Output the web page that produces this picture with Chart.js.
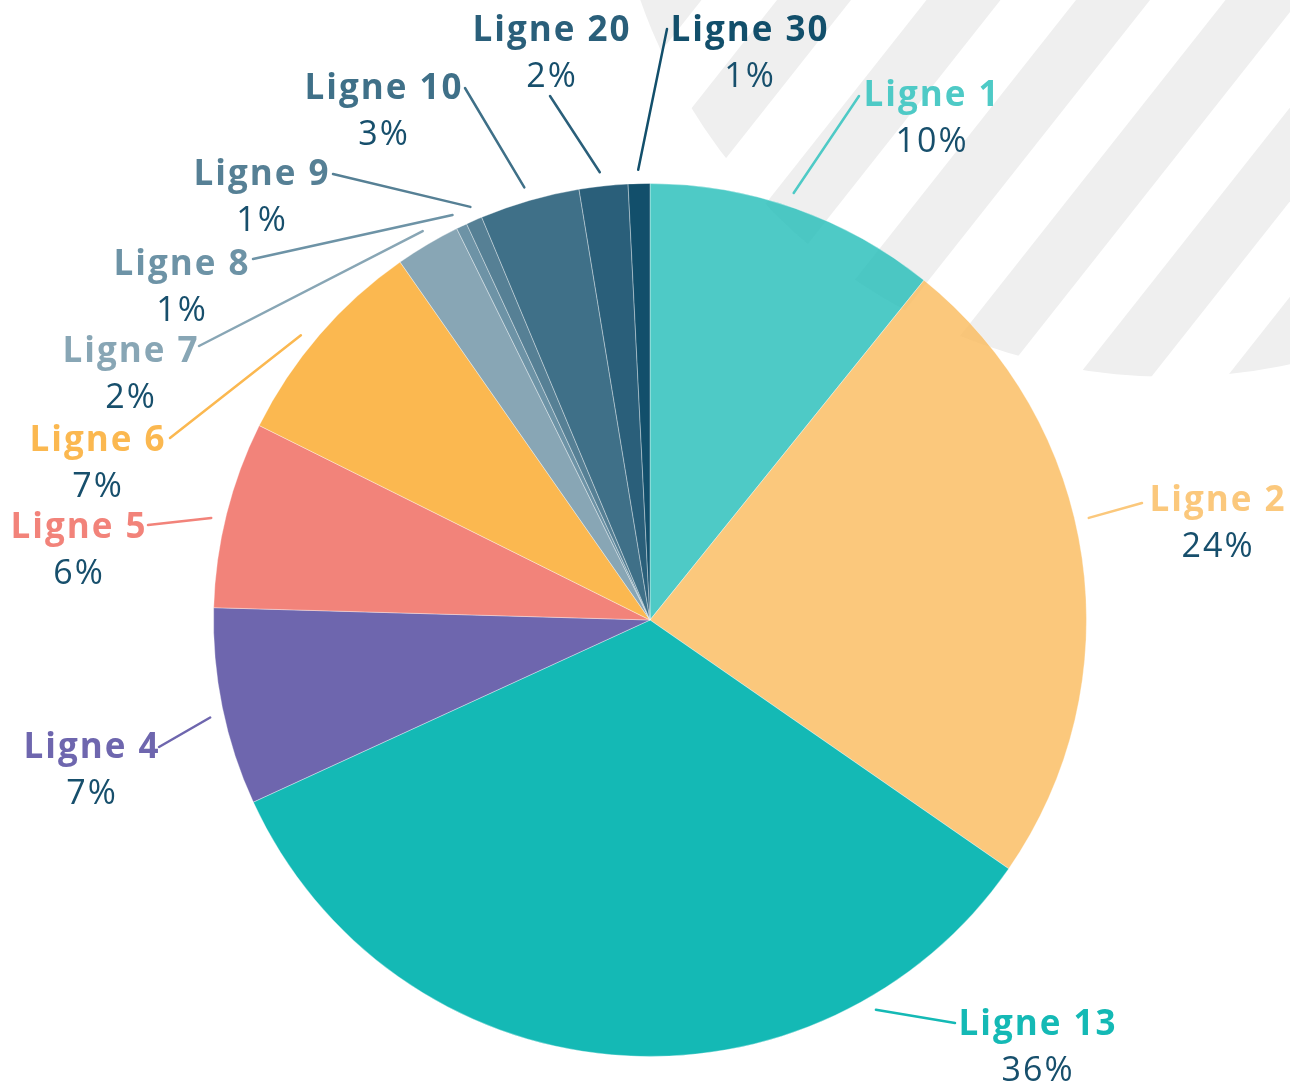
<!DOCTYPE html>
<html>
<head>
<meta charset="utf-8">
<script src="https://cdn.jsdelivr.net/npm/chart.js@4/dist/chart.umd.min.js"></script>
<style>
  html, body { margin: 0; padding: 0; background: #fff; }
  #wrap { width: 1290px; height: 1086px; }
</style>
</head>
<body>
<div id="wrap"><canvas id="pie" width="1290" height="1086"></canvas></div>
<script>
const categories = ['Ligne 1', 'Ligne 2', 'Ligne 13', 'Ligne 4', 'Ligne 5', 'Ligne 6',
  'Ligne 7', 'Ligne 8', 'Ligne 9', 'Ligne 10', 'Ligne 20', 'Ligne 30'];
// slice sizes as measured on the picture (%)
const shares = [10.8, 23.85, 33.5, 7.3, 6.9, 7.95, 2.4, 0.4, 0.6, 3.7, 1.8, 0.8];
// percentages as printed next to each slice
const shareLabels = ['10%', '24%', '36%', '7%', '6%', '7%', '2%', '1%', '1%', '3%', '2%', '1%'];

const sliceColors = ['#4ecac6', '#fbc87c', '#14b9b5', '#6e66ae', '#f2837a', '#fbb850',
  '#88a6b5', '#6d93a6', '#568095', '#3f7088', '#2a5f7a', '#124f6b'];
// the two top-right slices are slightly see-through over the stripes
const fillColors = sliceColors.slice();
fillColors[0] = 'rgba(34,189,184,0.8)';
fillColors[1] = 'rgba(250,186,91,0.8)';
const pctColor = '#174f6c';

// label placement: text centre x, name baseline y, leader outer end (lx, ly),
// leader inner end given as angle (deg clockwise from top) just outside the pie
const labelSpots = [
  { x: 931, y: 106, lx: 859, ly: 96, a: 18.6 },
  { x: 1217, y: 511, lx: 1142, ly: 503, a: 76.9 },
  { x: 1037, y: 1035, lx: 955, ly: 1023, a: 149.9 },
  { x: 91, y: 758, lx: 159, ly: 747, a: 257.5 },
  { x: 78, y: 538, lx: 148, ly: 525, a: 283.1 },
  { x: 97, y: 451, lx: 170, ly: 438, a: 309.2 },
  { x: 130, y: 362, lx: 199, ly: 346, a: 329.7 },
  { x: 181, y: 275, lx: 253, ly: 259, a: 334 },
  { x: 261, y: 185, lx: 333, ly: 174, a: 336.5 },
  { x: 383, y: 99, lx: 465, ly: 88, a: 343.8 },
  { x: 551, y: 41, lx: 550, ly: 96, a: 353.6 },
  { x: 749, y: 41, lx: 667, ly: 29, a: 358.5 }
];

// striped disc in the top right corner, behind the pie
const stripes = {
  id: 'stripes',
  beforeDraw(chart) {
    const ctx = chart.ctx;
    const H = chart.height;
    ctx.save();
    ctx.beginPath();
    ctx.arc(1171, -185, 562, 0, Math.PI * 2);
    ctx.clip();
    ctx.fillStyle = '#efefef';
    for (let k = -2; k < 10; k++) {
      const s = 627.5 + 149.5 * k;
      ctx.beginPath();
      ctx.moveTo(s, 0);
      ctx.lineTo(s + 74, 0);
      ctx.lineTo(s + 74 - 0.79 * H, H);
      ctx.lineTo(s - 0.79 * H, H);
      ctx.closePath();
      ctx.fill();
    }
    ctx.restore();
  }
};

const sliceLabels = {
  id: 'sliceLabels',
  afterDatasetsDraw(chart) {
    const ctx = chart.ctx;
    const arcs = chart.getDatasetMeta(0).data;
    ctx.save();
    arcs.forEach((arc, i) => {
      const { x, y, outerRadius } = arc.getProps(['x', 'y', 'outerRadius'], true);
      const spot = labelSpots[i];
      const ang = spot.a * Math.PI / 180;
      const r = outerRadius + 14;
      ctx.strokeStyle = sliceColors[i];
      ctx.lineWidth = 2.5;
      ctx.lineCap = 'round';
      ctx.beginPath();
      ctx.moveTo(x + r * Math.sin(ang), y - r * Math.cos(ang));
      ctx.lineTo(spot.lx, spot.ly);
      ctx.stroke();

      ctx.textAlign = 'center';
      ctx.textBaseline = 'alphabetic';
      ctx.letterSpacing = '2px';
      ctx.font = 'bold 35px "Open Sans"';
      ctx.fillStyle = sliceColors[i];
      ctx.fillText(categories[i], spot.x + 1, spot.y);
      ctx.letterSpacing = '2px';
      ctx.font = '500 34px "Open Sans"';
      ctx.fillStyle = pctColor;
      ctx.fillText(shareLabels[i], spot.x + 1, spot.y + 46);
    });
    ctx.restore();
  }
};

const pieChart = new Chart(document.getElementById('pie'), {
  type: 'pie',
  data: {
    labels: categories,
    datasets: [{
      data: shares,
      backgroundColor: fillColors,
      borderColor: 'rgba(255,255,255,0.35)',
      borderWidth: 1
    }]
  },
  options: {
    responsive: false,
    animation: false,
    layout: { padding: { top: 183, bottom: 29, left: 213, right: 203 } },
    plugins: {
      legend: { display: false },
      tooltip: { enabled: false }
    }
  },
  plugins: [stripes, sliceLabels]
});
</script>
</body>
</html>
